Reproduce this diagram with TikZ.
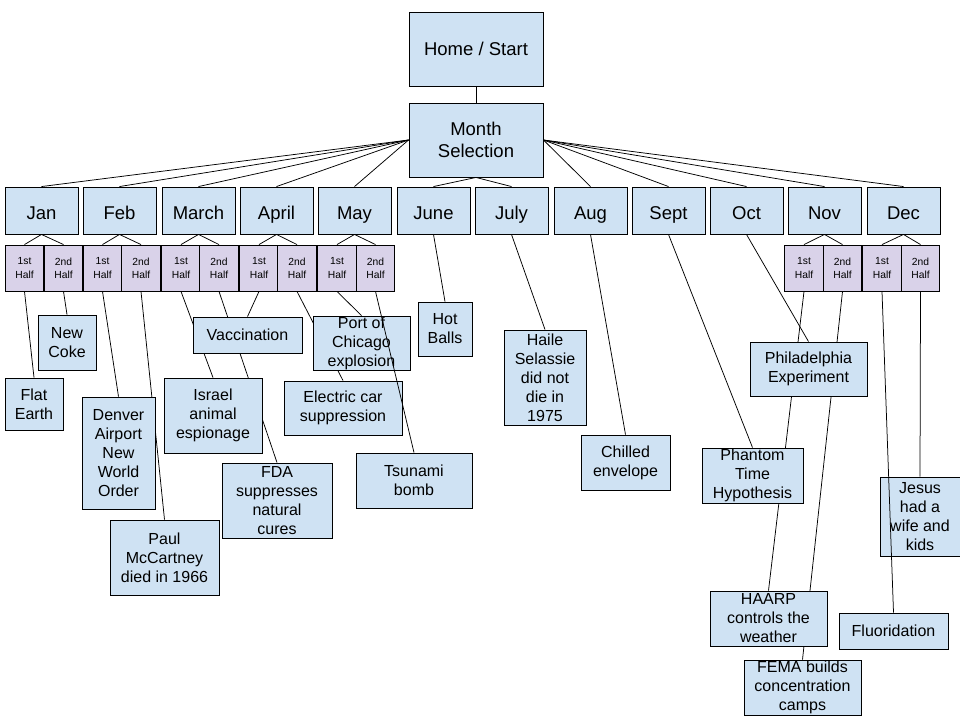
\documentclass[tikz,border=0pt]{standalone}
\usepackage{fontspec}
\setmainfont{Liberation Sans}
\usetikzlibrary{backgrounds}
\definecolor{lblue}{HTML}{CFE2F3}
\definecolor{lpurple}{HTML}{D9D2E9}
\begin{document}
\begin{tikzpicture}[x=1pt,y=-1pt,
 box/.style={draw=black,line width=0.9pt,fill=lblue,inner sep=0pt,align=center,font=\fontsize{16}{19}\selectfont},
 topbox/.style={box,minimum width=134pt,minimum height=74pt,font=\fontsize{18.5}{22}\selectfont},
 monthbox/.style={box,minimum width=73pt,minimum height=47pt,text height=17pt,text depth=0pt,font=\fontsize{18.5}{22}\selectfont},
 halfbox/.style={box,fill=lpurple,minimum width=38.5pt,minimum height=46pt,font=\fontsize{10.3}{13.3}\selectfont},
 conn/.style={draw=black,line width=0.75pt}]
\useasboundingbox (0,0) rectangle (960,720);
% top
\node[topbox] (home) at (476,49) {Home / Start};
\node[topbox] (ms) at (476,140) {Month\\Selection};
% months
\node[monthbox] (jan) at (41.5,210.5) {Jan};
\node[monthbox] (feb) at (119.5,210.5) {Feb};
\node[monthbox] (mar) at (198.5,210.5) {March};
\node[monthbox] (apr) at (276.5,210.5) {April};
\node[monthbox] (may) at (354.5,210.5) {May};
\node[monthbox] (jun) at (433.5,210.5) {June};
\node[monthbox] (jul) at (511.5,210.5) {July};
\node[monthbox] (aug) at (590.5,210.5) {Aug};
\node[monthbox] (sep) at (668.5,210.5) {Sept};
\node[monthbox] (oct) at (746.5,210.5) {Oct};
\node[monthbox] (nov) at (824.5,210.5) {Nov};
\node[monthbox] (dec) at (903.5,210.5) {Dec};
% halves
\node[halfbox] (jan1) at (24.5,268) {1st\\Half};
\node[halfbox] (jan2) at (63.5,268) {2nd\\Half};
\node[halfbox] (feb1) at (102.5,268) {1st\\Half};
\node[halfbox] (feb2) at (141,268) {2nd\\Half};
\node[halfbox] (mar1) at (181,268) {1st\\Half};
\node[halfbox] (mar2) at (219,268) {2nd\\Half};
\node[halfbox] (apr1) at (259,268) {1st\\Half};
\node[halfbox] (apr2) at (297,268) {2nd\\Half};
\node[halfbox] (may1) at (337,268) {1st\\Half};
\node[halfbox] (may2) at (375.5,268) {2nd\\Half};
\node[halfbox] (nov1) at (804,268) {1st\\Half};
\node[halfbox] (nov2) at (842.5,268) {2nd\\Half};
\node[halfbox] (dec1) at (882,268) {1st\\Half};
\node[halfbox] (dec2) at (920.5,268) {2nd\\Half};
% leaves
\node[box,minimum width=58pt,minimum height=52pt] (flat) at (34,404) {Flat\\Earth};
\node[box,minimum width=58pt,minimum height=55pt] (coke) at (67,342.5) {New\\Coke};
\node[box,minimum width=73pt,minimum height=112pt] (denver) at (118.5,453) {Denver\\Airport\\New\\World\\Order};
\node[box,minimum width=109pt,minimum height=75pt] (paul) at (164.5,557.5) {Paul\\McCartney\\died in 1966};
\node[box,minimum width=109pt,minimum height=36pt] (vacc) at (247.5,335) {Vaccination};
\node[box,minimum width=98pt,minimum height=75pt] (israel) at (213,415.5) {Israel\\animal\\espionage};
\node[box,minimum width=110pt,minimum height=75pt] (fda) at (277,500.5) {FDA\\suppresses\\natural\\cures};
\node[box,minimum width=97pt,minimum height=54pt] (port) at (361.5,343) {Port of\\Chicago\\explosion};
\node[box,minimum width=118pt,minimum height=54pt] (elec) at (343,408) {Electric car\\suppression};
\node[box,minimum width=116pt,minimum height=55pt] (tsunami) at (414,480.5) {Tsunami\\bomb};
\node[box,minimum width=54pt,minimum height=54pt] (hot) at (445,329) {Hot\\Balls};
\node[box,minimum width=82pt,minimum height=95pt] (haile) at (545,377.5) {Haile\\Selassie\\did not\\die in\\1975};
\node[box,minimum width=89pt,minimum height=55pt] (chill) at (625.5,462.5) {Chilled\\envelope};
\node[box,minimum width=101pt,minimum height=55pt] (phantom) at (752.5,475.5) {Phantom\\Time\\Hypothesis};
\node[box,minimum width=117pt,minimum height=54pt] (philly) at (808.5,369) {Philadelphia\\Experiment};
\node[box,minimum width=117pt,minimum height=55pt] (haarp) at (768.5,618.5) {HAARP\\controls the\\weather};
\node[box,minimum width=117pt,minimum height=55pt] (fema) at (802.5,687.5) {FEMA builds\\concentration\\camps};
\node[box,minimum width=109pt,minimum height=36pt] (fluor) at (893.5,631) {Fluoridation};
\node[box,minimum width=80pt,minimum height=79pt] (jesus) at (920,516.5) {Jesus\\had a\\wife and\\kids};
% connectors behind boxes
\begin{scope}[on background layer]
\draw[conn] (home.south) -- (ms.north);
\foreach \m in {jan,feb,mar,apr,may} \draw[conn] (ms.west) -- (\m.north);
\foreach \m in {jun,jul} \draw[conn] (ms.south) -- (\m.north);
\foreach \m in {aug,sep,oct,nov,dec} \draw[conn] (ms.east) -- (\m.north);
\foreach \m in {jan,feb,mar,apr,may,nov,dec} {
  \draw[conn] (\m.south) -- (\m1.north);
  \draw[conn] (\m.south) -- (\m2.north);
}
\draw[conn] (jan1.south) -- (flat.north);
\draw[conn] (jan2.south) -- (coke.north);
\draw[conn] (feb1.south) -- (denver.north);
\draw[conn] (feb2.south) -- (paul.north);
\draw[conn] (mar1.south) -- (israel.north);
\draw[conn] (mar2.south) -- (fda.north);
\draw[conn] (apr1.south) -- (vacc.north);
\draw[conn] (apr2.south) -- (elec.north);
\draw[conn] (may1.south) -- (port.north);
\draw[conn] (jun.south) -- (hot.north);
\draw[conn] (jul.south) -- (haile.north);
\draw[conn] (aug.south) -- (chill.north);
\draw[conn] (sep.south) -- (phantom.north);
\draw[conn] (oct.south) -- (philly.north);
\draw[conn] (nov1.south) -- (haarp.north);
\draw[conn] (nov2.south) -- (fema.north);
\draw[conn] (dec2.south) -- (jesus.north);
\end{scope}
% connectors drawn over boxes
\draw[conn] (may2.south) -- (tsunami.north);
\draw[conn] (dec1.south) -- (fluor.north);
\end{tikzpicture}
\end{document}
